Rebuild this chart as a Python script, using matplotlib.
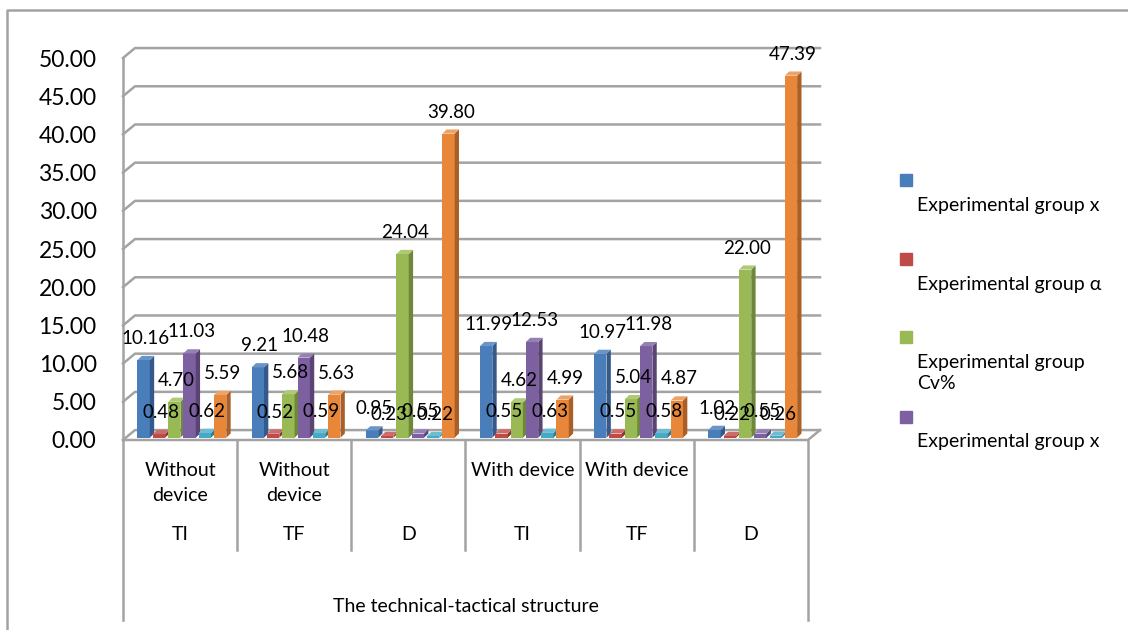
import numpy as np
import matplotlib.pyplot as plt
from matplotlib.patches import Polygon, Rectangle
from matplotlib.lines import Line2D

plt.rcParams['font.family'] = ['Lato', 'DejaVu Sans']

# Data
groups = ['TI', 'TF', 'D', 'TI', 'TF', 'D']
conditions = ['Without\ndevice', 'Without\ndevice', '', 'With device', 'With device', '']
axis_title = 'The technical-tactical structure'
yticks = np.arange(0, 55, 5)

blue_x = [10.16, 9.21, 0.95, 11.99, 10.97, 1.02]
red_alpha = [0.48, 0.52, 0.23, 0.55, 0.55, 0.22]
green_cv = [4.70, 5.68, 24.04, 4.62, 5.04, 22.00]
purple_x = [11.03, 10.48, 0.55, 12.53, 11.98, 0.55]
cyan_s = [0.62, 0.59, 0.22, 0.63, 0.58, 0.26]
orange_s = [5.59, 5.63, 39.80, 4.99, 4.87, 47.39]

legend_labels = ['Experimental group x', 'Experimental group \u03b1',
                 'Experimental group\nCv%', 'Experimental group x']

series = [blue_x, red_alpha, green_cv, purple_x, cyan_s, orange_s]
# (front, side, top) shades per series
palette = [
    ('#4A7EBB', '#34598A', '#6A95C8'),
    ('#BE4B48', '#8A3533', '#CC6C69'),
    ('#98B954', '#6E873B', '#AECA75'),
    ('#7D60A0', '#5A4474', '#9580B3'),
    ('#46AAC5', '#317B8F', '#6CBCD2'),
    ('#E8873A', '#A95F27', '#EFA265'),
]
grid_col = '#A3A3A3'
txt_col = '#000000'

# 3D-ish geometry in data units
wall_dx, wall_dy = 0.105, 1.3
bar_w, bar_dx, bar_dy = 0.108, 0.038, 0.55
pitch, first_off, base = 0.134, -0.373, 0.3

fig = plt.figure(figsize=(11.28, 6.3), dpi=100)
ax = fig.add_axes([123 / 1128, 190 / 630, 685 / 1128, 382 / 630])
ax.set_xlim(-0.5, 5.5)
ax.set_ylim(0, 50)
for s in ax.spines.values():
    s.set_visible(False)
ax.set_xticks([])
ax.set_yticks(yticks)
ax.set_yticklabels([f'{v:.2f}' for v in yticks], fontsize=16.5, color=txt_col)
ax.tick_params(axis='y', length=0, pad=19)

# back wall grid + left edge + floor
for v in yticks:
    ax.plot([-0.5, -0.5 + wall_dx, 5.5 + wall_dx], [v, v + wall_dy, v + wall_dy],
            color=grid_col, lw=1.8, clip_on=False, zorder=1)
ax.plot([-0.5, -0.5], [0, 50], color=grid_col, lw=1.8, clip_on=False, zorder=1)
ax.plot([-0.5, 5.5, 5.5 + wall_dx], [0, 0, wall_dy], color=grid_col, lw=1.8,
        clip_on=False, zorder=1)

# bars
x = np.arange(len(groups))
for j, vals in enumerate(series):
    front, side, top = palette[j]
    lefts = x + first_off + j * pitch
    ax.bar(lefts, vals, width=bar_w, bottom=base, align='edge', color=front,
           linewidth=0, zorder=3 + j)
    for l, v in zip(lefts, vals):
        h = base + v
        r = l + bar_w
        ax.add_patch(Polygon([(r, base), (r, h), (r + bar_dx, h + bar_dy),
                              (r + bar_dx, base + bar_dy)],
                             closed=True, color=side, lw=0, zorder=3 + j))
        ax.add_patch(Polygon([(l, h), (r, h), (r + bar_dx, h + bar_dy),
                              (l + bar_dx, h + bar_dy)],
                             closed=True, color=top, lw=0, zorder=3 + j))

# value labels
for j, vals in enumerate(series):
    lefts = x + first_off + j * pitch
    for l, v in zip(lefts, vals):
        ax.annotate(f'{v:.2f}', xy=(l + (bar_w + bar_dx) / 2, base + v),
                    xytext=(0, 15.5), textcoords='offset points',
                    ha='center', va='center', fontsize=13.5, color=txt_col,
                    zorder=20, annotation_clip=False)

# category table under the floor
y_px = lambda p: (440 - p) / 7.64
for k in range(1, len(groups)):
    ax.plot([k - 0.5, k - 0.5], [0, y_px(550)], color=grid_col, lw=1.8,
            clip_on=False)
for xe in (-0.5, 5.5):
    ax.plot([xe, xe], [0, y_px(620)], color=grid_col, lw=1.8, clip_on=False)
for i, (c, g) in enumerate(zip(conditions, groups)):
    ax.text(i, y_px(462), c, ha='center', va='top', fontsize=14,
            linespacing=1.6, color=txt_col, clip_on=False)
    ax.text(i, y_px(535), g, ha='center', va='center', fontsize=14,
            color=txt_col, clip_on=False)
ax.text(2.5, y_px(606), axis_title, ha='center', va='center', fontsize=14,
        color=txt_col, clip_on=False)

# legend (only the first four entries fit)
sq_y = [180, 259, 337, 417]
txt_y = [207, 286, 364, 443]
for j, lab in enumerate(legend_labels):
    fig.patches.append(Rectangle((900 / 1128, 1 - (sq_y[j] + 6) / 630), 12 / 1128,
                                 12 / 630, transform=fig.transFigure,
                                 color=palette[j][0]))
    fig.text(917 / 1128, 1 - (txt_y[j] - 10) / 630, lab, ha='left', va='top',
             fontsize=14, linespacing=1.3, color=txt_col)

# outer frame
fig.add_artist(Line2D([7 / 1128, 7 / 1128, 1.0], [0, 1 - 10 / 630, 1 - 10 / 630],
                      transform=fig.transFigure, color=grid_col, lw=1.8))

fig.savefig('out.png', dpi=100)
